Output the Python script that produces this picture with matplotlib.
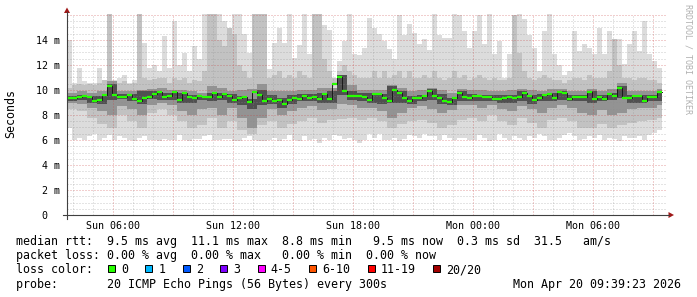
import numpy as np
import matplotlib.pyplot as plt
from matplotlib.patches import Polygon, Rectangle
from matplotlib.lines import Line2D

plt.rcParams['font.family'] = ['DejaVu Sans Mono']

W, H = 697, 297


def fx(x):
    return x / W


def fy(y):
    return 1 - y / H


# hours since Sun 00:00
start_hour = 3.7
end_hour = 33.7
fine_step = 0.25     # 15 min per value
coarse_step = 0.5    # 30 min per value

# median rtt (ms)
median = [
    9.33, 9.35, 9.41, 9.55, 9.45, 9.15, 9.2, 9.6, 10.3, 9.6, 9.45, 9.45, 9.6, 9.3, 9.1, 9.35, 9.45, 9.7, 9.8, 9.45,
    9.55, 9.8, 9.2, 9.75, 9.4, 9.35, 9.55, 9.45, 9.4, 9.75, 9.45, 9.65, 9.5, 9.2, 9.35, 9.4, 9.05, 9.85, 9.6, 9.15,
    9.25, 9.1, 9.2, 8.9, 9.2, 9.35, 9.3, 9.5, 9.35, 9.4, 9.25, 9.7, 9.25, 10.5, 11.0, 9.9, 9.5, 9.55, 9.55, 9.4,
    9.2, 9.65, 9.65, 9.35, 9.1, 10.0, 9.75, 9.35, 9.15, 9.35, 9.35, 9.55, 9.95, 9.55, 9.35, 9.15, 9.0, 9.35, 9.73, 9.4,
    9.35, 9.55, 9.5, 9.45, 9.4, 9.3, 9.3, 9.35, 9.4, 9.35, 9.4, 9.75, 9.5, 9.2, 9.35, 9.6, 9.7, 9.35, 9.8, 9.75,
    9.3, 9.42, 9.42, 9.45, 9.85, 9.3, 9.45, 9.3, 9.7, 9.55, 10.15, 9.35, 9.35, 9.55, 9.55, 9.15, 9.4, 9.4, 9.85,
]

# outer smoke (fastest / slowest ping)
hi1 = [
    14.0, 10.6, 11.8, 10.7, 10.6, 10.6, 11.8, 10.8, 16.5, 10.8, 11.0, 11.2, 10.6, 10.8, 16.5, 13.8, 11.8, 12.0, 11.5, 14.3,
    11.8, 15.5, 12.0, 13.0, 11.5, 13.5, 12.5, 16.5, 16.5, 16.5, 16.5, 15.5, 15.0, 16.5, 16.5, 14.5, 13.0, 16.5, 16.5, 16.5,
    11.7, 13.8, 15.0, 13.8, 16.3, 12.6, 13.6, 16.2, 12.9, 16.5, 16.5, 15.2, 14.8, 11.0, 12.3, 13.9, 16.2, 12.9, 12.8, 13.4,
    15.8, 15.0, 14.5, 13.9, 13.3, 12.5, 16.0, 14.4, 15.3, 14.6, 13.7, 14.1, 13.2, 16.2, 14.4, 14.2, 14.2, 16.3, 16.0, 14.7,
    13.4, 14.7, 16.0, 13.7, 16.2, 12.9, 13.9, 11.0, 12.9, 12.8, 16.2, 15.7, 14.4, 13.4, 11.5, 14.7, 16.2, 12.9, 12.0, 11.2,
    11.5, 14.7, 13.1, 13.7, 13.4, 12.9, 15.0, 12.9, 14.7, 13.7, 14.1, 12.1, 13.7, 14.7, 13.1, 15.5, 12.9, 12.3, 11.8,
]
lo1 = [
    7.0, 6.0, 6.2, 6.0, 6.3, 6.5, 6.0, 6.2, 6.4, 6.0, 6.3, 6.2, 6.0, 5.9, 6.2, 6.3, 6.0, 6.0, 5.9, 6.1,
    6.0, 6.0, 6.4, 6.0, 5.9, 6.1, 6.1, 6.3, 6.4, 6.0, 6.0, 6.1, 6.1, 5.9, 5.9, 6.2, 6.3, 6.0, 5.9, 5.9,
    6.0, 6.2, 5.9, 6.1, 6.4, 6.0, 5.9, 6.3, 6.0, 6.1, 5.8, 6.2, 6.0, 6.4, 6.3, 6.1, 6.2, 6.0, 5.8, 6.0,
    6.5, 6.2, 6.5, 6.0, 6.0, 6.2, 5.9, 6.1, 6.4, 6.3, 6.2, 6.5, 6.3, 6.3, 6.0, 6.4, 6.2, 6.0, 6.2, 6.2,
    6.0, 6.0, 6.4, 6.2, 5.9, 6.0, 6.5, 6.2, 6.0, 6.3, 6.2, 6.0, 6.3, 6.2, 6.5, 6.3, 6.0, 6.0, 6.2, 6.4,
    6.6, 6.3, 6.0, 6.1, 6.3, 6.2, 6.4, 6.0, 6.2, 6.1, 5.9, 6.3, 6.2, 6.2, 6.3, 6.0, 6.4, 6.6, 6.8,
]

# second smoke layer
hi2 = [
    10.2, 10.4, 10.5, 10.4, 10.5, 10.4, 10.6, 10.8, 16.5, 10.6, 10.6, 10.7, 10.5, 10.6, 16.5, 11.0, 10.8, 10.9, 11.0, 11.0,
    10.6, 11.0, 10.8, 11.0, 10.6, 10.8, 10.7, 11.5, 16.5, 16.5, 14.0, 13.5, 15.0, 14.5, 12.0, 11.5, 11.0, 16.5, 16.5, 16.5,
    11.0, 11.2, 11.5, 11.0, 11.2, 11.0, 11.5, 11.2, 11.0, 16.5, 16.5, 12.5, 11.5, 11.0, 11.5, 12.0, 11.5, 11.2, 11.0, 11.0,
    11.0, 11.5, 11.0, 11.5, 11.0, 11.2, 11.5, 11.0, 11.5, 11.0, 11.0, 11.2, 11.0, 11.5, 11.0, 10.8, 11.0, 11.5, 11.0, 11.2,
    10.8, 11.0, 11.2, 11.0, 10.8, 11.0, 10.8, 10.8, 11.0, 16.0, 13.0, 11.5, 11.0, 10.8, 11.0, 11.2, 11.0, 10.8, 10.8, 10.6,
    10.8, 11.0, 11.0, 10.8, 11.2, 11.0, 11.0, 11.0, 11.5, 14.1, 12.0, 11.0, 11.0, 10.8, 11.0, 11.0, 10.8, 10.8, 10.6,
]
lo2 = [
    8.5, 8.3, 7.8, 7.3, 7.0, 8.0, 7.5, 7.0, 8.2, 8.5,
    8.0, 7.5, 7.0, 7.2, 7.8, 7.0, 7.5, 6.8, 6.5, 7.2,
    7.5, 7.0, 7.3, 7.5, 7.8, 7.4, 7.6, 7.7, 7.8, 7.6,
    7.8, 7.5, 7.0, 7.3, 7.5, 7.6, 7.4, 7.0, 7.2, 7.6,
    7.8, 7.5, 8.0, 7.5, 7.2, 7.8, 7.4, 7.0, 7.6, 7.8,
    7.5, 7.0, 7.0, 7.3, 7.0, 7.2, 7.4, 7.5, 7.6, 7.8,
]

# inner smoke layers
hi3 = [
    9.8, 9.9, 9.8, 9.9, 10.7, 9.9, 9.9, 10.0, 10.1, 10.2,
    10.0, 10.0, 9.9, 9.8, 10.3, 10.2, 9.9, 10.0, 10.1, 10.5,
    9.9, 9.9, 9.9, 10.0, 10.0, 10.2, 10.2, 10.8, 10.4, 10.0,
    10.0, 10.0, 10.4, 10.2, 9.9, 10.0, 10.2, 10.0, 9.8, 10.1,
    10.0, 10.0, 9.9, 9.9, 10.0, 10.1, 10.0, 9.9, 10.1, 10.1,
    9.9, 9.9, 10.1, 9.9, 10.1, 10.6, 9.9, 9.9, 9.9, 10.1,
]
lo3 = [
    9.0, 8.9, 8.6, 8.3, 8.0, 8.7, 8.5, 8.0, 8.8, 9.0,
    8.8, 8.3, 8.0, 8.5, 8.6, 8.0, 8.6, 7.8, 7.0, 7.8,
    8.5, 8.0, 8.3, 8.6, 8.7, 8.4, 8.5, 8.9, 8.8, 8.6,
    8.6, 8.3, 7.8, 8.2, 8.6, 8.7, 8.5, 8.2, 8.4, 8.8,
    8.8, 8.6, 8.8, 8.5, 8.3, 8.7, 8.5, 8.2, 8.6, 8.8,
    8.6, 8.2, 8.0, 8.4, 8.0, 8.2, 8.5, 8.6, 8.6, 8.8,
]
hi4 = [
    9.5, 9.6, 9.5, 9.5, 10.5, 9.7, 9.7, 9.9, 9.9, 9.8,
    9.8, 9.8, 9.6, 9.5, 9.8, 9.8, 9.7, 9.5, 9.3, 10.0,
    9.6, 9.4, 9.6, 9.7, 9.7, 9.8, 9.9, 11.2, 9.9, 9.8,
    9.8, 9.7, 10.3, 9.9, 9.5, 9.6, 10.1, 9.7, 9.4, 9.9,
    9.7, 9.6, 9.6, 9.6, 9.6, 9.9, 9.6, 9.7, 9.8, 9.9,
    9.6, 9.6, 9.9, 9.6, 9.8, 10.3, 9.6, 9.6, 9.6, 9.9,
]
lo4 = [
    9.1, 9.2, 9.0, 8.9, 9.2, 9.3, 9.1, 8.9, 9.3, 9.2,
    9.2, 9.0, 9.0, 9.2, 9.1, 9.2, 9.0, 8.8, 8.5, 8.8,
    8.9, 8.6, 8.9, 9.1, 9.1, 9.0, 9.0, 9.6, 9.2, 9.1,
    9.0, 8.9, 9.0, 9.0, 8.9, 9.1, 9.2, 8.9, 8.8, 9.1,
    9.1, 9.1, 9.1, 9.0, 9.0, 9.1, 8.9, 9.1, 9.1, 9.2,
    9.1, 9.1, 9.0, 9.1, 9.2, 9.4, 9.0, 9.0, 9.1, 9.1,
]

x_ticks = [6, 12, 18, 24, 30]
x_labels = ["Sun 06:00", "Sun 12:00", "Sun 18:00", "Mon 00:00", "Mon 06:00"]
y_ticks = [0, 2, 4, 6, 8, 10, 12, 14]
y_labels = ["0  ", "2 m", "4 m", "6 m", "8 m", "10 m", "12 m", "14 m"]

loss_labels = ["0", "1", "2", "3", "4-5", "6-10", "11-19", "20/20"]
loss_colors = ["#26ff00", "#00b8ff", "#0059ff", "#7e00ff", "#ff00ff", "#ff5500", "#ff0000", "#a10000"]

stats_line = "median rtt:  9.5 ms avg  11.1 ms max  8.8 ms min   9.5 ms now  0.3 ms sd  31.5   am/s"
loss_line = "packet loss: 0.00 % avg  0.00 % max   0.00 % min  0.00 % now"
probe_line = "probe:       20 ICMP Echo Pings (56 Bytes) every 300s"
stamp = "Mon Apr 20 09:39:23 2026"


def ext(v):
    return np.append(v, v[-1])


x_fine = start_hour + fine_step * np.arange(len(median) + 1)
x_coarse = np.minimum(start_hour + coarse_step * np.arange(len(lo2) + 1), x_fine[-1])

fig = plt.figure(figsize=(W / 100, H / 100), dpi=100, facecolor="white")
ax = fig.add_axes([fx(67), fy(215), 600 / W, 201 / H])
ax.set_xlim(start_hour, end_hour)
ax.set_ylim(0, 201 / 12.5)
for s in ax.spines.values():
    s.set_visible(False)

# smoke
ax.fill_between(x_fine, ext(lo1), ext(hi1), step="post", color="#dcdcdc", lw=0, zorder=1)
ax.fill_between(x_fine, ext(median), ext(hi2), step="post", color="#c2c2c2", lw=0, zorder=2)
ax.fill_between(x_coarse, ext(lo2), ext(hi3), step="post", color="#c2c2c2", lw=0, zorder=2)
ax.fill_between(x_coarse, ext(lo3), ext(hi3), step="post", color="#939393", lw=0, zorder=2.5)
ax.fill_between(x_coarse, ext(lo4), ext(hi4), step="post", color="#505050", lw=0, zorder=2.6)

# grid on top of the smoke
dots = (0, (1, 2))
for v in np.arange(0.5, 16.01, 0.5):
    if v % 2 == 0:
        ax.axhline(v, color="#c83c3c", alpha=0.5, lw=0.72, ls=dots, zorder=4)
    else:
        ax.axhline(v, color="#8c8c8c", alpha=0.45, lw=0.72, ls=dots, zorder=4)
for h in range(4, 34):
    if h % 3 == 0:
        ax.axvline(h, color="#c83c3c", alpha=0.5, lw=0.72, ls=dots, zorder=4)
    else:
        ax.axvline(h, color="#8c8c8c", alpha=0.45, lw=0.72, ls=dots, zorder=4)

# median
ax.step(x_fine, ext(median), where="post", color="#1a1a1a", lw=0.7, zorder=5)
ax.hlines(median, x_fine[:-1], x_fine[1:], color=loss_colors[0], lw=1.6, zorder=6)

ax.set_xticks(x_ticks, x_labels)
ax.set_yticks(y_ticks, y_labels)
ax.tick_params(axis="both", length=0, labelsize=7.2, colors="#000000")
ax.tick_params(axis="x", pad=4)
ax.tick_params(axis="y", pad=5)

# axes with arrows
axis_col = "#404040"
arrow_col = "#a01818"
fig.add_artist(Line2D([fx(63), fx(669)], [fy(215), fy(215)], color=axis_col, lw=0.8))
fig.add_artist(Line2D([fx(67), fx(67)], [fy(219), fy(12)], color=axis_col, lw=0.8))
fig.add_artist(Polygon([[fx(67), fy(7.5)], [fx(64), fy(13)], [fx(70), fy(13)]],
                       closed=True, color=arrow_col, lw=0))
fig.add_artist(Polygon([[fx(674), fy(215)], [fx(668.5), fy(212)], [fx(668.5), fy(218)]],
                       closed=True, color=arrow_col, lw=0))

fig.text(fx(11), fy(114), "Seconds", rotation=90, ha="center", va="center", fontsize=8.4)
fig.text(fx(688), fy(4), "RRDTOOL / TOBI OETIKER", rotation=270, ha="center", va="top",
         fontsize=6, color="#b0b0b0")

# legend block
cw = 7.0
x0 = 16
base = [245, 259.2, 273.4, 287.6]
fig.text(fx(x0), fy(base[0]), stats_line, fontsize=8.4, va="baseline")
fig.text(fx(x0), fy(base[1]), loss_line, fontsize=8.4, va="baseline")
fig.text(fx(x0), fy(base[2]), "loss color:", fontsize=8.4, va="baseline")
col = 13.0
for lab, c in zip(loss_labels, loss_colors):
    bx = x0 + col * cw + 1
    fig.add_artist(Rectangle((fx(bx), fy(272)), 7 / W, 7 / H, facecolor=c, edgecolor="black", lw=0.7))
    fig.text(fx(x0 + (col + 2) * cw), fy(base[2]), lab, fontsize=8.4, va="baseline")
    col += 2 + len(lab) + 2.35
fig.text(fx(x0), fy(base[3]), probe_line, fontsize=8.4, va="baseline")
fig.text(fx(681), fy(base[3]), stamp, fontsize=8.4, va="baseline", ha="right")

fig.savefig("out.png", dpi=100, facecolor="white")
